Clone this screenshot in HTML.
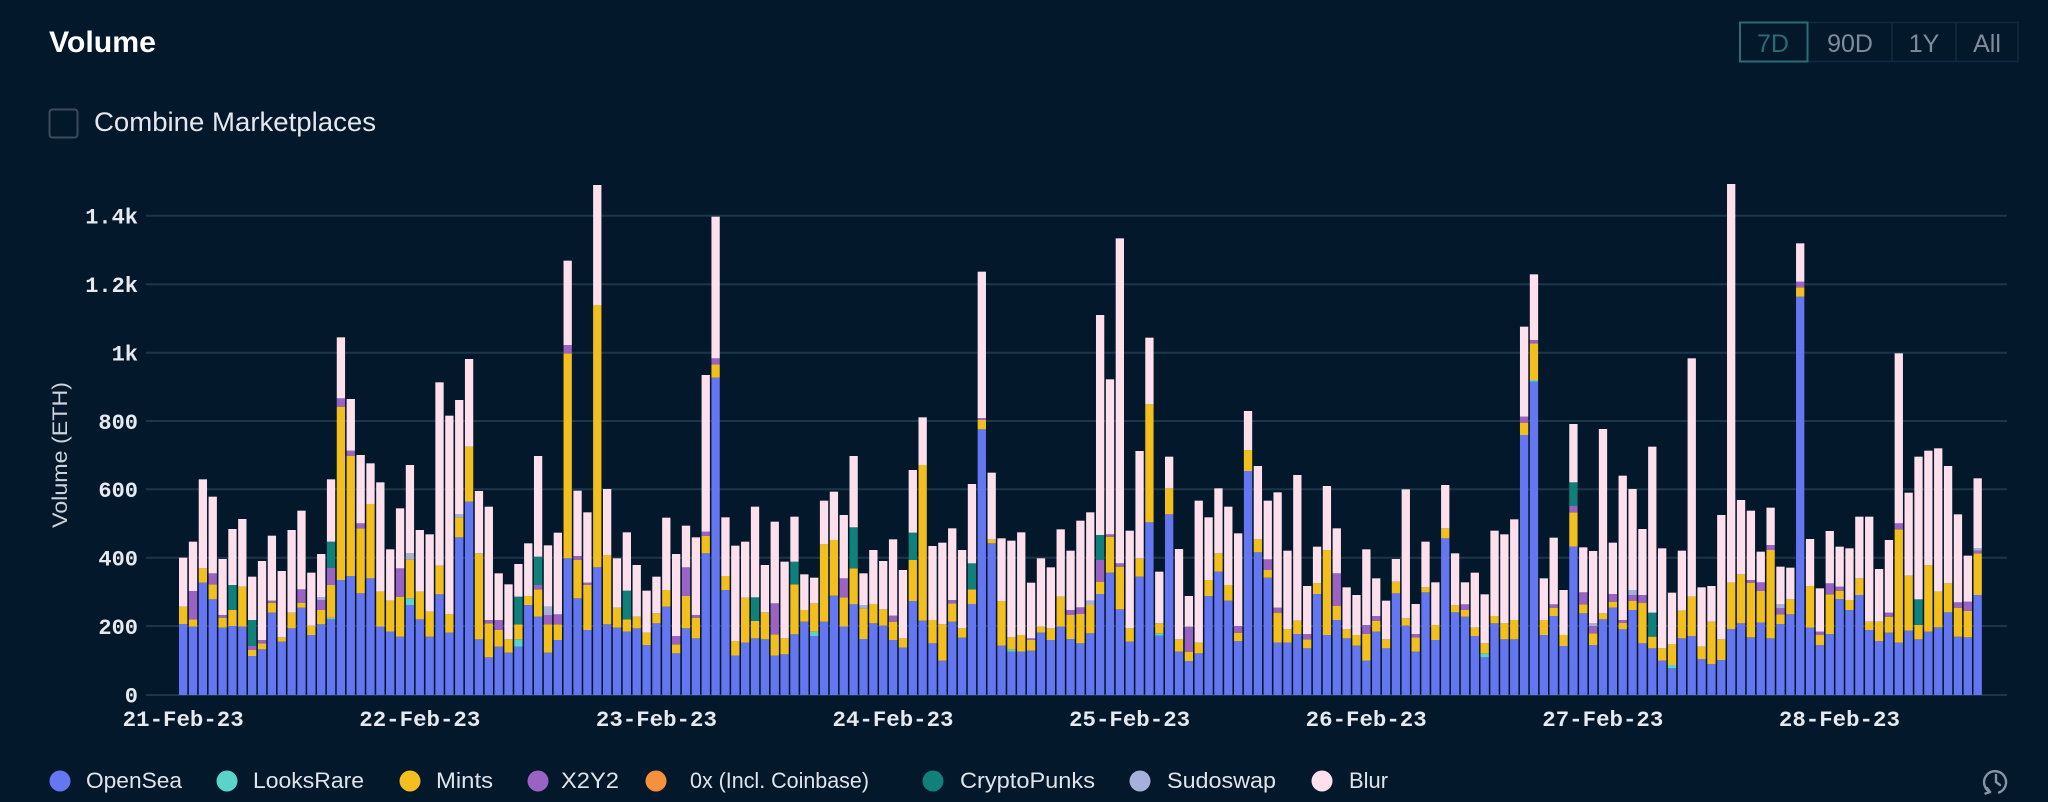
<!DOCTYPE html>
<html>
<head>
<meta charset="utf-8">
<style>
html,body{margin:0;padding:0;background:#03182b;width:2048px;height:802px;overflow:hidden}
svg{display:block}
text{font-family:"Liberation Sans",sans-serif}
.mono{font-family:"Liberation Mono",monospace;font-weight:bold}
</style>
</head>
<body>
<svg id="s" width="2048" height="802" viewBox="0 0 2048 802" xmlns="http://www.w3.org/2000/svg">
<rect width="2048" height="802" fill="#03182b"/>

<!-- Title -->
<text x="49" y="52" font-weight="bold" font-size="30" fill="#ffffff" textLength="107" lengthAdjust="spacingAndGlyphs">Volume</text>

<!-- Checkbox -->
<rect x="49.5" y="109.5" width="28" height="28" rx="3" fill="none" stroke="#3a4b5c" stroke-width="2"/>
<text x="94" y="131" font-size="27" fill="#e4e8ed" textLength="282" lengthAdjust="spacingAndGlyphs">Combine Marketplaces</text>

<!-- Range buttons -->
<rect x="1740" y="22.5" width="278" height="39" fill="none" stroke="#0f2a40" stroke-width="1.5"/>
<line x1="1892" y1="22.5" x2="1892" y2="61.5" stroke="#0f2a40" stroke-width="1.5"/>
<line x1="1956" y1="22.5" x2="1956" y2="61.5" stroke="#0f2a40" stroke-width="1.5"/>
<rect x="1740" y="22.5" width="67.5" height="39" fill="none" stroke="#2a6d75" stroke-width="2"/>
<text x="1773" y="52" font-size="25" fill="#2c6b74" text-anchor="middle">7D</text>
<text x="1850" y="52" font-size="25" fill="#7e8b9a" text-anchor="middle">90D</text>
<text x="1924" y="52" font-size="25" fill="#7e8b9a" text-anchor="middle">1Y</text>
<text x="1987" y="52" font-size="25" fill="#7e8b9a" text-anchor="middle">All</text>

<!-- Grid -->
<g stroke="#1c3549" stroke-width="2">
<line x1="146" y1="215.7" x2="2007" y2="215.7"/>
<line x1="146" y1="284.3" x2="2007" y2="284.3"/>
<line x1="146" y1="352.7" x2="2007" y2="352.7"/>
<line x1="146" y1="421" x2="2007" y2="421"/>
<line x1="146" y1="489.3" x2="2007" y2="489.3"/>
<line x1="146" y1="557.7" x2="2007" y2="557.7"/>
<line x1="146" y1="626" x2="2007" y2="626"/>
<line x1="146" y1="695" x2="2007" y2="695"/>
</g>

<!-- Y labels -->
<g class="mono" font-size="22" fill="#e6eaef" text-anchor="end">
<text class="mono" x="138" y="223.5">1.4k</text>
<text class="mono" x="138" y="292">1.2k</text>
<text class="mono" x="138" y="360.5">1k</text>
<text class="mono" x="138" y="428.8">800</text>
<text class="mono" x="138" y="497">600</text>
<text class="mono" x="138" y="565.5">400</text>
<text class="mono" x="138" y="633.8">200</text>
<text class="mono" x="138" y="702.5">0</text>
</g>

<!-- Y title -->
<text transform="translate(67,455) rotate(-90)" text-anchor="middle" font-size="21" fill="#cdd3da" textLength="146" lengthAdjust="spacingAndGlyphs">Volume (ETH)</text>

<g id="bars"></g>

<!-- X labels -->
<g font-size="22" fill="#e6eaef" text-anchor="middle">
<text class="mono" x="183.2" y="726" textLength="121" lengthAdjust="spacingAndGlyphs">21-Feb-23</text>
<text class="mono" x="419.8" y="726" textLength="121" lengthAdjust="spacingAndGlyphs">22-Feb-23</text>
<text class="mono" x="656.4" y="726" textLength="121" lengthAdjust="spacingAndGlyphs">23-Feb-23</text>
<text class="mono" x="893" y="726" textLength="121" lengthAdjust="spacingAndGlyphs">24-Feb-23</text>
<text class="mono" x="1129.6" y="726" textLength="121" lengthAdjust="spacingAndGlyphs">25-Feb-23</text>
<text class="mono" x="1366.2" y="726" textLength="121" lengthAdjust="spacingAndGlyphs">26-Feb-23</text>
<text class="mono" x="1602.8" y="726" textLength="121" lengthAdjust="spacingAndGlyphs">27-Feb-23</text>
<text class="mono" x="1839.4" y="726" textLength="121" lengthAdjust="spacingAndGlyphs">28-Feb-23</text>
</g>

<!-- Legend -->
<g font-size="22" fill="#dfe4ea">
<circle cx="60" cy="781" r="10.5" fill="#6576f1"/>
<text x="86" y="788" textLength="96" lengthAdjust="spacingAndGlyphs">OpenSea</text>
<circle cx="227" cy="781" r="10.5" fill="#5cd3c9"/>
<text x="253" y="788" textLength="111" lengthAdjust="spacingAndGlyphs">LooksRare</text>
<circle cx="410" cy="781" r="10.5" fill="#f2bf1f"/>
<text x="436" y="788" textLength="57" lengthAdjust="spacingAndGlyphs">Mints</text>
<circle cx="538" cy="781" r="10.5" fill="#9a63c3"/>
<text x="561" y="788" textLength="58" lengthAdjust="spacingAndGlyphs">X2Y2</text>
<circle cx="656" cy="781" r="10.5" fill="#f6903c"/>
<text x="690" y="788" textLength="179" lengthAdjust="spacingAndGlyphs">0x (Incl. Coinbase)</text>
<circle cx="933" cy="781" r="10.5" fill="#11807b"/>
<text x="960" y="788" textLength="135" lengthAdjust="spacingAndGlyphs">CryptoPunks</text>
<circle cx="1140" cy="781" r="10.5" fill="#a5b1d8"/>
<text x="1167" y="788" textLength="109" lengthAdjust="spacingAndGlyphs">Sudoswap</text>
<circle cx="1322" cy="781" r="10.5" fill="#fde0eb"/>
<text x="1349" y="788" textLength="39" lengthAdjust="spacingAndGlyphs">Blur</text>
</g>

<!-- Clock icon -->
<g fill="none" stroke="#8794a3" stroke-width="2.4" stroke-linecap="round">
<path d="M1990 792 A11 11 0 1 1 1999 792.5"/>
<path d="M1990 792 l-3 -4 M1990 792 l-4.5 1.5"/>
<path d="M1996 775 v7 l4 3"/>
</g>
</svg>
<script>
(function(){
var D=["1133 o1332 m1280","1085 o1340 m1318 x1233","898 o1208 m1165","950 o1258 m1213 x1180","1137 o1343 m1313 x1305","1047 o1338 m1290 c1215","1017 o1340 m1220","1190 o1428 m1410 x1398 c1320","1143 o1408 m1390 x1380","1067 o1298 m1268 x1262","1173 o1385 m1372","1050 o1345 m1298","992 o1283 m1268 x1228","1178 o1365 m1337","1122 o1333 m1290 x1260 s1252","898 o1318 l1313 m1215 x1163 c1085","472 o1200 m680 x655","657 o1188 m827 x812","825 o1240 m1045 x1030","850 o1195 m972","907 o1340 m1235","1108 o1355 m1262","985 o1370 m1250 x1165","855 o1275 l1255 m1138 s1120","1050 o1318 m1235","1063 o1370 m1295","607 o1243 m1157","707 o1358 m1302","660 o1072 m1012 s1003","537 o965 m800","933 o1378 m1120",
"980 o1432 m1330 x1320","1180 o1400 m1350 x1320","1213 o1418 m1378","1152 o1400 l1378 m1333 c1250","1090 o1275 m1248","828 o1310 m1228 x1215 c1130","1096 o1418 m1333 x1305 s1280","1058 o1380 m1333 x1303","242 o1135 m520 x495","932 o1255 m1140 x1128","997 o1350 m1215 x1208","15 o1162 m375","927 o1333 m1125","1135 o1343 m1283","1057 o1355 m1318 c1232","1155 o1345 m1310","1232 o1395 m1358","1190 o1330 m1300","1013 o1280 m1230","1122 o1420 m1393 x1368","1037 o1345 m1248 x1162","1072 o1375 m1313 x1305","585 o1120 m1068 x1055","110 o593 m553 x535","1012 o1230 m1188","1097 o1427 m1383","1085 o1388 m1253","980 o1375 m1323 c1252","1155 o1378 m1297","1025 o1427 m1363 x1270","1145 o1423 m1375",
"1010 o1363 m1213 c1145","1183 o1325 m1290","1193 o1368 l1355 m1270","962 o1325 m1093","935 o1247 m1080","1005 o1340 m1252 x1195","828 o1273 m1165 c1042","1180 o1377 m1285 s1275","1110 o1330 m1272","1143 o1337 m1288","1078 o1380 m1325 x1307","1170 o1403 m1375","870 o1263 m1140 c1058","712 o1322 m855","1098 o1390 m1320","1088 o1442 m1333","1045 o1325 m1270 x1260","1110 o1373 m1345","912 o1272 m1228 c1150","275 o748 m720 x714","878 o1090 m1078","1075 o1397 m1263","1082 o1415 l1408 m1372","1057 o1415 m1365","1208 o1412 m1380 x1375","1135 o1358 m1340","1162 o1380 m1345","1048 o1340 m1250","1112 o1377 m1305 x1290","1022 o1390 m1302 x1282","997 o1360 m1275 s1262","405 o1242 m1205 x1140 c1065",
"598 o1178 m1070 x1063","175 o1288 m1160 x1150","1052 o1385 m1345","813 o1190 m1135","473 o1027 m673","1175 o1367 l1360 m1330","830 o1003 m925","1107 o1415 m1378","1248 o1443 m1415 x1340","962 o1420 m1388","1012 o1248 m1200","925 o1175 m1120","980 o1262 m1215","1060 o1383 m1358 x1338","693 o873 m810","858 o1117 m1078","962 o1193 m1170 x1138","937 o1388 m1298 x1283","1112 o1388 m1348","885 o1362 m1322","1218 o1405 m1378 x1362","1100 o1242 m1210","918 o1365 m1110","1045 o1320 m1277 x1180","1222 o1375 m1348","1245 o1397 m1365","1108 o1442 m1362 x1335","1195 o1355 m1322 x1308","1262 o1405 m1378","1137 o1240 m1205","928 o1337 m1315","1272 o1415 m1372 x1362",
"1085 o1237 m1222","1207 o1380 m1335","915 o1075 m1045","1120 o1297 m1275","1207 o1310 m1290 x1273","1178 o1368 m1343","1243 o1432 l1420 m1390","1052 o1330 m1308","1063 o1378 m1330","1018 o1378 m1320","440 o765 m728 x710","283 o605 l600 m490 x480","1195 o1365 m1320","1073 o1308 m1283 x1273","1230 o1398 m1365","732 o1100 m997 x978 c907","1102 o1300 m1273 x1237","1113 o1395 m1360 x1338 s1330","747 o1318 m1300","1088 o1283 m1265 x1242","887 o1348 m1328 x1320","927 o1290 m1262 x1245 s1230","1047 o1390 m1268 x1245","800 o1405 m1370 c1298","1105 o1442 m1405","1238 o1465 l1455 m1393","1112 o1375 m1292","535 o1368 m1250","1222 o1437 m1400","1218 o1452 m1325","1005 o1440 m1378",
"12 o1347 m1208","960 o1330 m1183","992 o1372 m1208 x1200","1115 o1328 m1233 x1207","983 o1375 m1110 x1095","1160 o1332 m1303 x1285 s1273","1163 o1303 m1258","190 o350 m322 x305","1077 o1343 m1218","1225 o1395 m1365 x1355","1053 o1362 m1243 x1210","1100 o1257 m1232 x1220","1105 o1290 m1260","1010 o1245 m1195","1010 o1350 m1325","1167 o1383 m1325","1080 o1358 m1310 x1298","520 o1388 m1048 x1030","938 o1352 m1187","830 o1378 m1335 c1258","812 o1355 m1155","805 o1342 m1235","858 o1297 m1210","1003 o1370 m1283 x1267","1127 o1372 m1293 x1265","895 o1245 m1120 x1112 s1105"];
var col={o:'#6576f1',l:'#5cd3c9',m:'#f2bf1f',x:'#9a63c3',c:'#11807b',s:'#a5b1d8',b:'#fde0eb'};
var g=document.getElementById('bars');
var ns='http://www.w3.org/2000/svg';
function Y(z){return 180+z/3;}
function rect(x,y1,y2,c){
  if(y2-y1<=0)return;
  var r=document.createElementNS(ns,'rect');
  r.setAttribute('x',x.toFixed(2));
  r.setAttribute('y',Y(y1).toFixed(2));
  r.setAttribute('width','8.3');
  r.setAttribute('height',((y2-y1)/3).toFixed(2));
  r.setAttribute('fill',c);
  g.appendChild(r);
}
for(var i=0;i<D.length;i++){
  var p=D[i].split(' ');
  var top=parseFloat(p[0]);
  var x=179+9.86*i;
  var prev=1545;
  for(var k=1;k<p.length;k++){
    var t=p[k].charAt(0),y=parseFloat(p[k].substring(1));
    rect(x,y,prev,col[t]);prev=y;
  }
  rect(x,top,prev,col.b);
}
})();
</script>
</body>
</html>
